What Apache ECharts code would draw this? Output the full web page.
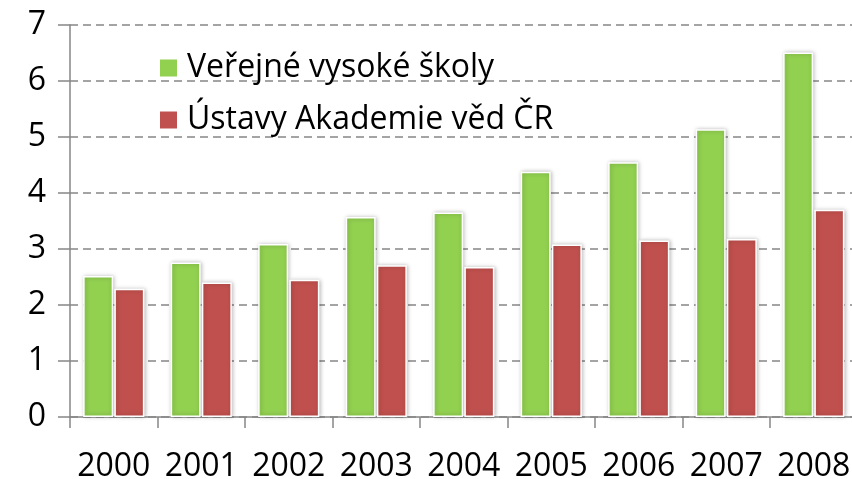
<!DOCTYPE html>
<html><head><meta charset="utf-8">
<script src="https://cdn.jsdelivr.net/npm/echarts@6/dist/echarts.min.js"></script>
<style>html,body{margin:0;padding:0;background:#fff}#c{width:852px;height:479px}</style>
</head><body><div id="c"></div>
<script>
const categories = ['2000','2001','2002','2003','2004','2005','2006','2007','2008'];
const seriesNames = ['Veřejné vysoké školy','Ústavy Akademie věd ČR'];
const verejne = [2.52, 2.76, 3.09, 3.57, 3.65, 4.38, 4.55, 5.14, 6.51];
const ustavy = [2.29, 2.40, 2.45, 2.71, 2.68, 3.08, 3.15, 3.18, 3.70];
const yTicks = [0,1,2,3,4,5,6,7];

const font = 'Open Sans';
const gray = '#868686';
const chart = echarts.init(document.getElementById('c'));
const barStyle = c => ({color:c, borderColor:'#fff', borderWidth:1.5, shadowBlur:4, shadowColor:'rgba(0,0,0,0.25)', shadowOffsetX:1, shadowOffsetY:0});
chart.setOption({
  animation:false,
  textStyle:{fontFamily:font},
  grid:{left:70, top:25, bottom:62, right:-5.5, containLabel:false, outerBoundsMode:'none'},
  legend:{
    orient:'vertical', left:153, top:47, itemWidth:19, itemHeight:19, itemGap:20,
    icon:'rect',
    textStyle:{fontFamily:font, fontSize:32, color:'#000', padding:[0,0,0,4]},
    data:seriesNames
  },
  xAxis:{
    type:'category', data:categories,
    axisLine:{lineStyle:{color:gray, width:1.5}},
    axisTick:{show:true, length:11, lineStyle:{color:gray, width:1.5}},
    axisLabel:{fontFamily:font, fontSize:32, color:'#000', margin:34, interval:0}
  },
  yAxis:{
    type:'value', min:yTicks[0], max:yTicks[yTicks.length-1], interval:1,
    axisLine:{show:true, lineStyle:{color:gray, width:1.5}},
    axisTick:{show:true, length:12, lineStyle:{color:gray, width:1.5}},
    axisLabel:{fontFamily:font, fontSize:32, color:'#000', margin:24},
    splitLine:{show:true, lineStyle:{color:gray, width:1.5, type:[8,5]}}
  },
  series:[
    {name:seriesNames[0], type:'bar', data:verejne, barWidth:30, barGap:'4%', itemStyle:barStyle('#92D050')},
    {name:seriesNames[1], type:'bar', data:ustavy, barWidth:30, itemStyle:barStyle('#C0504D')}
  ]
});
</script></body></html>
